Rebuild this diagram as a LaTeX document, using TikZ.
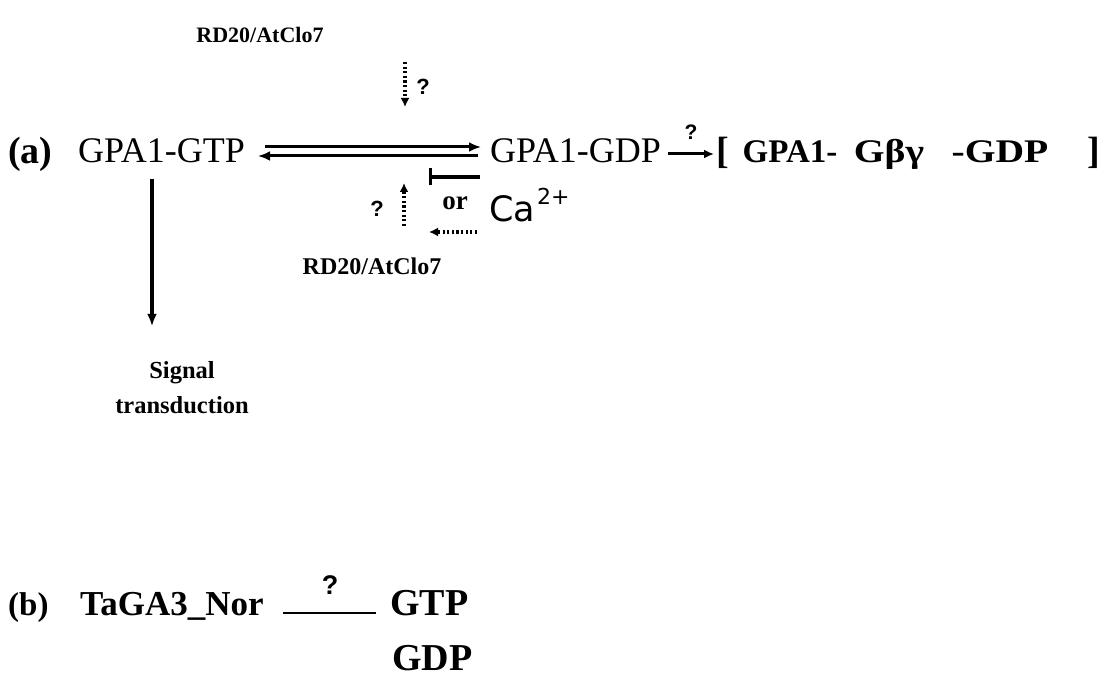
\documentclass[tikz,border=0pt]{standalone}
\usepackage{fontspec}
\setmainfont{Liberation Serif}
\newfontfamily\casans{DejaVu Sans}
\newfontfamily\qsans{Liberation Sans}
\usetikzlibrary{arrows.meta}
\begin{document}
\begin{tikzpicture}[x=1pt,y=-1pt,
  lbl/.style={inner sep=0pt,font=\fontsize{22}{24}\selectfont\bfseries},
  big/.style={inner sep=0pt,font=\fontsize{36}{40}\selectfont},
  bigb/.style={inner sep=0pt,font=\fontsize{36}{40}\selectfont\bfseries},
  cpx/.style={inner sep=0pt,anchor=base,font=\fontsize{33}{36}\selectfont\bfseries},
  qm/.style={inner sep=0pt,font=\qsans\fontsize{22}{24}\selectfont\bfseries},
  orlbl/.style={inner sep=0pt,font=\fontsize{27}{30}\selectfont\bfseries},
  solidarr/.style={line width=3.4pt,-{Latex[length=12pt,width=10pt]}},
  dotarr/.style={line width=3.2pt,dash pattern=on 2.2pt off 2.4pt,-{Latex[length=9pt,width=9pt]}}]
\useasboundingbox (0,0) rectangle (1112,687);
% (a) row
\node[lbl,anchor=base] (rdtop) at (260,43) {RD20/AtClo7};
\node[bigb,anchor=base west,font=\fontsize{38}{40}\selectfont\bfseries] (la) at (8,164) {(a)};
\node[big,anchor=base west] (gtp) at (78,163) {GPA1-GTP};
\node[big,anchor=base west] (gdp) at (490,163) {GPA1-GDP};
\node[cpx,font=\fontsize{38}{40}\selectfont\bfseries] (cb1) at (723,164) {[};
\node[cpx] (cp1) at (790,163) {GPA1-};
\node[cpx] (cp2) at (889,163) {\scalebox{1.2}[1]{Gβγ}};
\node[cpx] (cp3) at (1000,163) {\scalebox{1.2}[1]{-GDP}};
\node[cpx,font=\fontsize{38}{40}\selectfont\bfseries] (cb2) at (1094,164) {]};
\coordinate (e1s) at (265,147);
\coordinate (e1e) at (481,147);
\coordinate (e2s) at (478,156);
\coordinate (e2e) at (258,156);
\draw[solidarr,line width=3pt] (e1s) -- (e1e);
\draw[solidarr,line width=3pt] (e2s) -- (e2e);
% dotted arrow from top
\coordinate (d1s) at (405,62);
\coordinate (d1e) at (405,107);
\draw[dotarr] (d1s) -- (d1e);
\node[qm] (q1) at (423,87) {?};
% to complex
\coordinate (c1s) at (668,154);
\coordinate (c1e) at (714,154);
\draw[line width=3pt,-{Latex[length=10pt,width=9pt]}] (c1s) -- (c1e);
\node[qm,font=\qsans\fontsize{21}{22}\selectfont\bfseries] (q2) at (691,132) {?};
% lower regulation
\coordinate (bars) at (480,177);
\coordinate (bare) at (429,177);
\draw[line width=3.4pt,-{Bar[width=17pt,line width=3.4pt]}] (bars) -- (bare);
\node[orlbl,anchor=base] (or) at (455,210) {or};
\coordinate (u1s) at (404,226);
\coordinate (u1e) at (404,183);
\draw[dotarr] (u1s) -- (u1e);
\node[qm] (q3) at (377,209) {?};
\coordinate (l1s) at (477,232);
\coordinate (l1e) at (429,232);
\draw[dotarr] (l1s) -- (l1e);
\node[inner sep=0pt,anchor=base west,font=\casans\fontsize{35}{36}\selectfont] (ca) at (489,222) {Ca\hspace{2pt}\raisebox{17pt}{\fontsize{22}{24}\selectfont 2+}};
\node[lbl,font=\fontsize{24}{26}\selectfont\bfseries,anchor=base] (rdbot) at (372,275) {RD20/AtClo7};
% signal transduction
\coordinate (s1s) at (152,179);
\coordinate (s1e) at (152,326);
\draw[solidarr] (s1s) -- (s1e);
\node[inner sep=0pt,align=center,font=\fontsize{24.5}{35}\selectfont\bfseries,anchor=north] (sig) at (182,361) {Signal\\transduction};
% (b) row
\node[bigb,anchor=base west,font=\fontsize{33}{36}\selectfont\bfseries] (lb) at (8,615) {(b)};
\node[inner sep=0pt,anchor=base west,font=\fontsize{35}{36}\selectfont\bfseries] (taga) at (80,615) {TaGA3\_Nor};
\coordinate (ls) at (283,613);
\coordinate (le) at (376,613);
\draw[line width=2.4pt] (ls) -- (le);
\node[qm,font=\qsans\fontsize{27}{28}\selectfont\bfseries] (q4) at (330,585) {?};
\node[bigb,anchor=base west,font=\fontsize{38}{40}\selectfont\bfseries] (gtpb) at (390,615) {GTP};
\node[bigb,anchor=base west,font=\fontsize{38}{40}\selectfont\bfseries] (gdpb) at (392,670) {GDP};
\end{tikzpicture}
\end{document}
